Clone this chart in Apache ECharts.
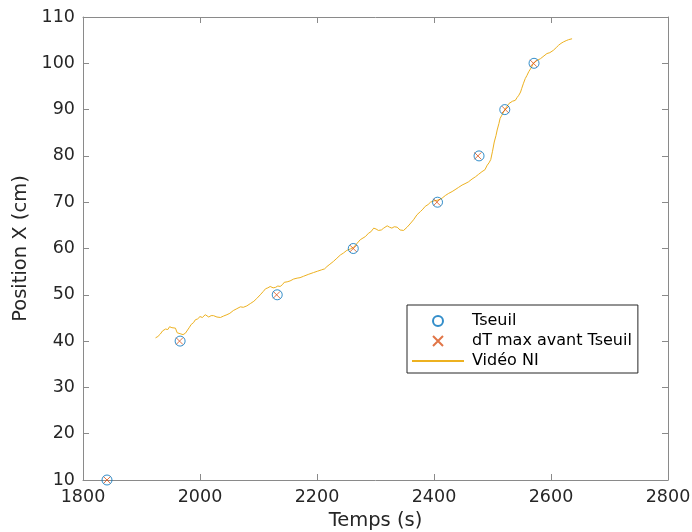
<!DOCTYPE html>
<html>
<head>
<meta charset="utf-8">
<script src="https://cdn.jsdelivr.net/npm/echarts@6/dist/echarts.min.js"></script>
<style>
  html, body { margin: 0; padding: 0; background: #fff; }
  #chart { width: 692px; height: 532px; }
</style>
</head>
<body>
<div id="chart"></div>
<script>
// Threshold crossing times (s) and positions (cm)
const tseuil = [
  [1841, 10], [1966, 40], [2132, 50], [2262, 60],
  [2406, 70], [2477, 80], [2521, 90], [2571, 100]
];
// Time of max dT before each threshold crossing
const dtMax = [
  [1841, 10], [1965, 40], [2131, 50], [2262, 60],
  [2405, 70], [2475, 80], [2522, 90], [2570, 100]
];
// Position tracked from the video
const videoT = [
  1924, 1928, 1932, 1936, 1941, 1945, 1948, 1952, 1955, 1958,
  1961, 1966, 1971, 1975, 1978, 1982, 1985, 1989, 1992, 1996,
  2000, 2004, 2009, 2012, 2015, 2019, 2023, 2029, 2035, 2040,
  2046, 2051, 2057, 2063, 2069, 2074, 2080, 2086, 2092, 2097,
  2103, 2108, 2112, 2116, 2120, 2125, 2129, 2133, 2137, 2141,
  2144, 2149, 2154, 2160, 2166, 2171, 2177, 2185, 2194, 2201,
  2208, 2213, 2217, 2222, 2228, 2234, 2240, 2245, 2251, 2257,
  2263, 2267, 2270, 2274, 2277, 2283, 2288, 2292, 2297, 2301,
  2305, 2310, 2314, 2317, 2320, 2324, 2328, 2332, 2337, 2340,
  2342, 2345, 2348, 2351, 2354, 2359, 2365, 2371, 2377, 2381,
  2385, 2390, 2394, 2400, 2405, 2410, 2414, 2420, 2425, 2431,
  2436, 2442, 2448, 2453, 2459, 2465, 2471, 2476, 2482, 2487,
  2491, 2494, 2497, 2500, 2503, 2506, 2508, 2511, 2513, 2516,
  2519, 2522, 2525, 2528, 2530, 2534, 2539, 2542, 2545, 2548,
  2550, 2553, 2556, 2559, 2562, 2566, 2570, 2576, 2582, 2588,
  2593, 2598, 2604, 2609, 2613, 2617, 2621, 2626, 2630, 2636
];
const videoX = [
  40.7, 41.0, 41.5, 42.2, 42.6, 42.5, 43.1, 42.9, 42.6, 42.8,
  41.8, 41.6, 41.4, 41.7, 42.1, 43.0, 43.6, 44.0, 44.6, 44.8,
  45.3, 45.1, 45.7, 45.3, 45.2, 45.5, 45.5, 45.2, 45.1, 45.4,
  45.7, 46.0, 46.6, 47.0, 47.4, 47.3, 47.6, 48.1, 48.6, 49.2,
  50.0, 50.7, 51.3, 51.5, 51.8, 51.5, 51.6, 51.9, 51.8, 52.2,
  52.7, 52.8, 53.0, 53.4, 53.6, 53.7, 54.0, 54.4, 54.8, 55.1,
  55.4, 55.6, 56.1, 56.6, 57.2, 57.9, 58.6, 59.0, 59.6, 59.9,
  60.3, 60.9, 61.3, 61.9, 62.2, 62.6, 63.3, 63.6, 64.4, 64.2,
  63.9, 64.0, 64.4, 64.6, 64.9, 64.6, 64.4, 64.7, 64.6, 64.2,
  64.0, 63.6, 63.9, 64.2, 64.6, 65.3, 66.2, 67.3, 68.0, 68.5,
  69.1, 69.5, 70.0, 70.3, 70.4, 70.6, 70.9, 71.5, 71.9, 72.3,
  72.7, 73.2, 73.7, 74.0, 74.4, 75.0, 75.5, 76.0, 76.6, 77.0,
  78.0, 78.5, 79.2, 81.0, 83.0, 84.4, 85.6, 87.0, 88.1, 88.8,
  89.5, 90.2, 90.6, 91.3, 91.7, 91.8, 92.0, 92.6, 93.1, 93.8,
  94.6, 95.7, 96.7, 97.4, 98.2, 99.0, 100.0, 100.6, 101.0, 101.6,
  102.1, 102.3, 102.8, 103.4, 103.9, 104.3, 104.6, 104.9, 105.1, 105.3
];
const videoData = videoT.map((t, i) => [t, videoX[i]]);

const FONT = 'DejaVu Sans';
const AXIS_COLOR = '#8a8a8a';
const TEXT_COLOR = '#262626';

const xCommon = {
  type: 'value', min: 1800, max: 2800, interval: 200,
  axisLine: { show: true, onZero: false, lineStyle: { color: AXIS_COLOR, width: 1 } },
  axisTick: { show: true, inside: true, length: 6, lineStyle: { color: AXIS_COLOR } },
  splitLine: { show: false }
};
const yCommon = {
  type: 'value', min: 10, max: 110, interval: 10,
  axisLine: { show: true, onZero: false, lineStyle: { color: AXIS_COLOR, width: 1 } },
  axisTick: { show: true, inside: true, length: 6, lineStyle: { color: AXIS_COLOR } },
  splitLine: { show: false }
};

const chart = echarts.init(document.getElementById('chart'), null, { renderer: 'canvas' });
chart.setOption({
  animation: false,
  backgroundColor: '#fff',
  textStyle: { fontFamily: FONT },
  grid: { left: 83, right: 24, top: 17, bottom: 52, containLabel: false,
          outerBoundsMode: 'none' },
  xAxis: [
    Object.assign({}, xCommon, {
      position: 'bottom',
      name: 'Temps (s)', nameLocation: 'middle', nameGap: 29,
      nameTextStyle: { fontFamily: FONT, fontSize: 19.5, color: TEXT_COLOR },
      axisLabel: { fontFamily: FONT, fontSize: 17.5, color: TEXT_COLOR, margin: 8,
                   formatter: v => String(v) }
    }),
    Object.assign({}, xCommon, { position: 'top', axisLabel: { show: false } })
  ],
  yAxis: [
    Object.assign({}, yCommon, {
      position: 'left',
      name: 'Position X (cm)', nameLocation: 'middle', nameGap: 45,
      nameTextStyle: { fontFamily: FONT, fontSize: 19.5, color: TEXT_COLOR },
      axisLabel: { fontFamily: FONT, fontSize: 17.5, color: TEXT_COLOR, margin: 8,
                   formatter: v => String(v) }
    }),
    Object.assign({}, yCommon, { position: 'right', axisLabel: { show: false } })
  ],
  legend: {
    orient: 'vertical',
    left: 407, top: 305,
    padding: [6, 6, 2, 4],
    itemGap: 0,
    itemWidth: 52, itemHeight: 10,
    borderColor: '#262626', borderWidth: 1,
    backgroundColor: '#fff',
    textStyle: { fontFamily: FONT, fontSize: 16, color: '#000', lineHeight: 20,
                 padding: [0, 0, 0, 3] },
    data: [
      { name: 'Tseuil' },
      { name: 'dT max avant Tseuil' },
      { name: 'Vidéo NI', itemStyle: { color: 'rgba(0,0,0,0)', borderWidth: 0, opacity: 0 } }
    ]
  },
  series: [
    {
      name: 'Vidéo NI', type: 'line', data: videoData,
      symbol: 'none', z: 1,
      lineStyle: { color: '#EDB120', width: 1 },
      itemStyle: { color: '#EDB120' }
    },
    {
      name: 'Tseuil', type: 'scatter', data: tseuil,
      symbol: 'circle', symbolSize: 10, z: 3,
      itemStyle: { color: 'rgba(0,0,0,0)', borderColor: '#0072BD', borderWidth: 1 }
    },
    {
      name: 'dT max avant Tseuil', type: 'scatter', data: dtMax,
      symbol: 'path://M0,0L10,10M10,0L0,10', symbolSize: 7, z: 2,
      itemStyle: { color: 'rgba(0,0,0,0)', borderColor: '#D95319', borderWidth: 1 }
    }
  ]
});
</script>
</body>
</html>
